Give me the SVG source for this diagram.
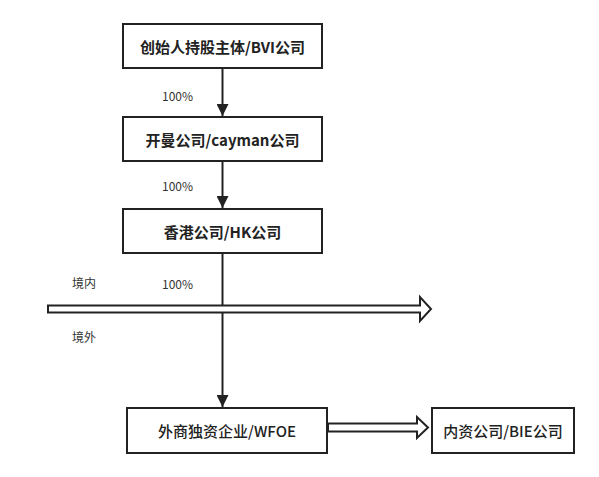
<svg xmlns="http://www.w3.org/2000/svg" width="599" height="477" viewBox="0 0 599 477">
<defs>
<style>
.box{fill:#fff;stroke:#222;stroke-width:2}
.t{font-family:"Noto Sans CJK SC","Microsoft YaHei",sans-serif;font-size:15px;font-weight:bold;fill:#222;text-anchor:middle;dominant-baseline:central}
.m{font-weight:500}
.l{font-family:"Noto Sans CJK SC",sans-serif;font-size:12px;fill:#333}
.ln{stroke:#222;stroke-width:2;fill:none}
.ha{fill:#fff;stroke:#222;stroke-width:2;stroke-linejoin:miter}
</style>
<marker id="ah" viewBox="0 0 10 10" refX="10" refY="5" markerWidth="6" markerHeight="6" markerUnits="strokeWidth" orient="auto">
<path d="M0,0 L10,5 L0,10 z" fill="#222"/>
</marker>
</defs>
<rect width="599" height="477" fill="#fff"/>
<g id="connectors">
<line class="ln" x1="222.5" y1="69" x2="222.5" y2="116" marker-end="url(#ah)"/>
<line class="ln" x1="222.5" y1="162" x2="222.5" y2="208" marker-end="url(#ah)"/>
<line class="ln" x1="222.5" y1="254" x2="222.5" y2="407" marker-end="url(#ah)"/>
<path class="ha" d="M48,305.5 L420,305.5 L420,297 L431,309 L420,321 L420,312.5 L48,312.5 z"/>
<path class="ha" d="M328,423.5 L417,423.5 L417,417 L428,427.5 L417,438 L417,431.5 L328,431.5 z"/>
<text class="l" x="162" y="101">100%</text>
<text class="l" x="162" y="191">100%</text>
<text class="l" x="162" y="289">100%</text>
<text class="l" x="72" y="288">境内</text>
<text class="l" x="72" y="342">境外</text>
</g>
<g id="n1"><rect class="box" x="123" y="24" width="199" height="44"/><text class="t" x="222.5" y="46">创始人持股主体/BVI公司</text></g>
<g id="n2"><rect class="box" x="123" y="117" width="199" height="44"/><text class="t" x="222.5" y="139">开曼公司/cayman公司</text></g>
<g id="n3"><rect class="box" x="123" y="209" width="199" height="44"/><text class="t" x="222.5" y="231">香港公司/HK公司</text></g>
<g id="n4"><rect class="box" x="127" y="408" width="200" height="45"/><text class="t m" x="227" y="430.5">外商独资企业/WFOE</text></g>
<g id="n5"><rect class="box" x="432" y="408" width="142" height="45"/><text class="t m" x="503" y="430.5">内资公司/BIE公司</text></g>
</svg>
